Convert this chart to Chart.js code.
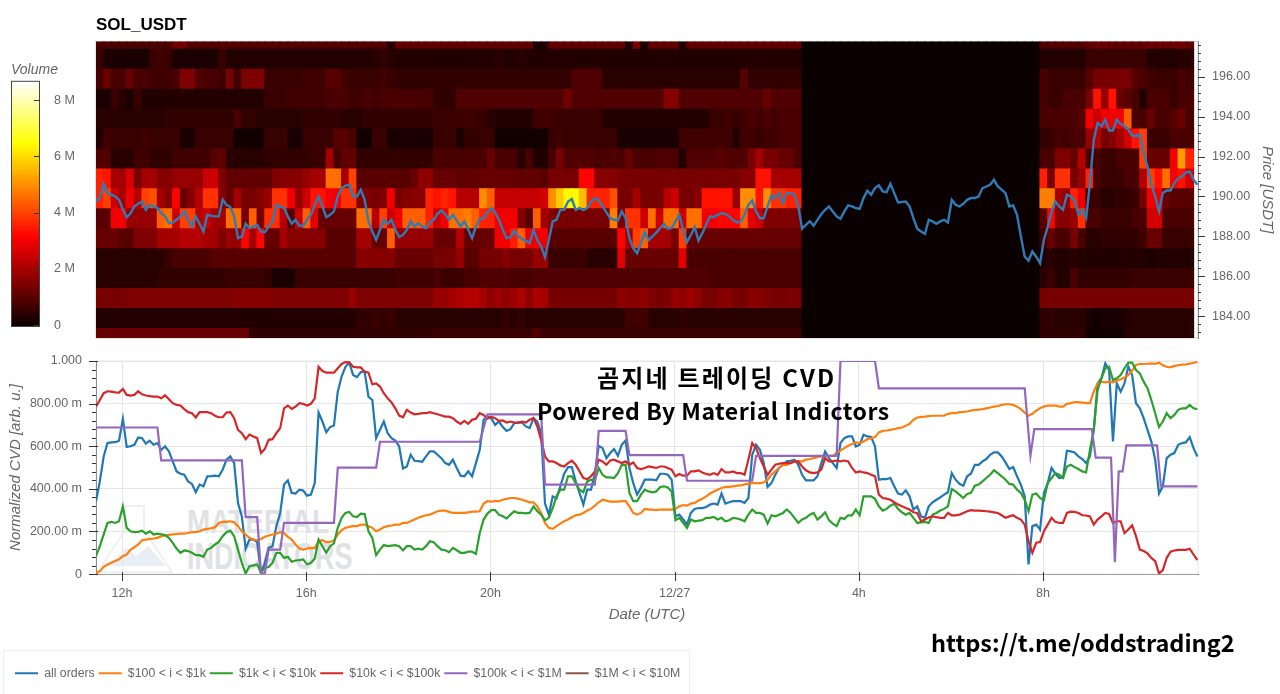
<!DOCTYPE html>
<html>
<head>
<meta charset="utf-8">
<script src="https://cdn.jsdelivr.net/npm/chart.js@4"></script>
<style>
  html, body { margin: 0; padding: 0; background: #fff; width: 1280px; height: 694px; overflow: hidden; }
  canvas { position: absolute; }
  .note { position: absolute; white-space: nowrap; font-family: "Noto Sans CJK KR", "Noto Sans"; font-weight: 700; color: #000; }
  #legendBox { position: absolute; left: 3px; top: 650px; width: 685px; height: 43px; border: 1px solid #eee; }
  .mark { position: absolute; white-space: nowrap; font-family: "Liberation Sans"; font-weight: 700; color: #dfe2e5; transform-origin: left top; }
</style>
</head>
<body>
<svg style="position:absolute;left:96px;top:500px" width="90" height="76">
  <path d="M29 6 H48 V30 L76 72 H2 L29 30 Z" fill="none" stroke="#eef0f2" stroke-width="2"/>
  <path d="M12 66 L30 48 L40 56 L52 46 L70 66 Z" fill="#e8eff4"/>
</svg>
<div class="mark" style="left:187px;top:502px;font-size:34px;transform:scaleX(.82)">MATERIAL</div>
<div class="mark" style="left:187px;top:536px;font-size:36px;transform:scaleX(.75)">INDICATORS</div>
<div id="legendBox"></div>
<canvas id="heatCanvas" width="1280" height="346" style="left:0;top:0"></canvas>
<canvas id="barCanvas" width="96" height="285" style="left:0;top:55px"></canvas>
<canvas id="cvdCanvas" width="1280" height="349" style="left:0;top:345px"></canvas>
<div class="note" style="left:597px;top:359px;font-size:24px;letter-spacing:2.2px">곰지네 트레이딩 CVD</div>
<div class="note" style="left:537px;top:393px;font-size:23px;letter-spacing:.5px">Powered By Material Indictors</div>
<div class="note" style="left:931px;top:625px;font-size:23.5px">https://t.me/oddstrading2</div>
<script>
// 시간축: 12/26 00시 기준 시간(h), 5분봉 인덱스를 시간으로 바꿔 쓴다
const startHour = 11.435;
const endHour = 35.365;
const timeTicks = [12, 16, 20, 24, 28, 32];
const timeLabels = ['12h', '16h', '20h', '12/27', '4h', '8h'];

const priceTicks = [184, 186, 188, 190, 192, 194, 196];
const cvdTicks = [0, 200, 400, 600, 800, 1000];
const cvdLabels = ['0', '200.00 m', '400.00 m', '600.00 m', '800.00 m', '1.000'];
const volumeTicks = [0, 2, 4, 6, 8];
const seriesLabels = ['all orders', '$100 < i < $1k', '$1k < i < $10k', '$10k < i < $100k', '$100k < i < $1M', '$1M < i < $10M'];

// 가격 (USDT), 5분 간격
const price = [
189.75,189.92,190.64,190.17,190.09,190.0,189.84,189.33,188.95,189.16,
189.5,189.63,189.75,189.33,189.58,189.5,189.42,189.16,189.0,188.66,
188.69,188.83,189.0,189.25,188.83,188.49,189.0,188.63,188.24,189.08,
189.03,189.0,189.0,189.84,189.58,189.47,189.0,187.91,187.99,188.63,
188.41,188.49,188.58,188.24,188.21,188.49,188.75,189.58,189.5,189.42,
189.0,188.63,188.83,188.53,188.53,188.83,189.08,189.58,190.0,189.5,
188.96,189.08,189.25,190.0,190.42,190.54,190.59,190.0,190.0,190.34,
189.84,188.75,188.24,187.82,188.33,188.83,188.63,188.83,188.33,187.96,
188.07,188.33,188.75,188.49,188.66,188.49,188.41,188.7,188.83,189.13,
189.3,189.11,188.83,189.08,188.8,188.49,188.75,188.33,187.91,188.49,
188.88,188.91,189.2,189.42,189.2,188.83,188.33,187.91,187.96,188.28,
188.0,187.87,187.77,187.66,188.33,187.82,187.49,186.95,187.82,188.75,
188.83,189.33,189.33,189.75,189.87,189.33,189.42,189.32,189.42,189.75,
189.92,189.8,189.5,189.2,188.91,188.83,188.8,189.25,188.91,187.91,
187.4,187.15,187.66,188.21,187.82,188.0,188.19,188.41,188.63,188.38,
188.41,188.75,189.08,188.33,187.71,188.07,188.46,187.79,188.16,188.58,
189.0,188.96,189.08,189.16,189.13,189.0,188.8,188.7,188.75,189.08,
189.58,189.8,189.25,188.91,188.91,189.5,190.05,189.92,190.2,189.67,
190.17,190.17,190.09,189.5,188.38,188.58,188.76,188.53,188.83,189.11,
189.33,189.5,189.25,189.0,188.88,189.25,189.55,189.5,189.42,189.38,
189.92,190.29,190.09,190.42,190.56,190.25,190.22,190.64,190.17,189.7,
189.72,189.75,189.5,188.91,188.38,188.24,188.12,188.83,188.75,188.63,
188.75,188.83,188.7,189.83,189.58,189.5,189.63,189.83,189.92,189.92,
190.0,190.42,190.5,190.59,190.84,190.5,190.34,190.17,189.5,189.55,
189.08,188.0,186.98,186.78,187.24,186.98,186.65,187.82,188.49,189.25,
189.75,189.5,189.33,190.09,190.0,189.83,189.08,189.33,188.91,190.67,
192.85,193.69,193.52,193.86,193.31,193.31,193.86,193.64,193.52,193.36,
193.05,193.05,193.1,192.18,191.51,190.59,190.0,189.25,190.17,190.3,
190.3,190.67,190.92,191.0,191.2,191.26,190.84,190.59];

// CVD (단위 m), 5분 간격
const allOrders = [
342,435,552,615,618,619,626,728,597,600,607,641,638,612,626,607,615,583,599,576,
529,482,471,466,435,423,384,420,412,459,460,462,459,490,537,552,521,334,271,120,
162,162,150,3,53,123,131,225,287,420,440,381,378,396,392,368,373,427,758,716,
666,690,697,856,927,973,992,934,924,948,950,833,817,638,677,716,661,638,627,599,
495,505,560,532,530,527,552,576,576,560,544,521,513,537,498,462,459,482,459,521,
583,724,739,732,700,716,690,672,680,708,711,711,693,685,732,716,661,331,279,365,
355,412,471,502,502,435,381,326,396,396,474,602,591,544,568,587,555,607,627,498,
427,373,405,443,443,443,440,471,471,466,443,271,279,256,232,287,306,310,310,315,
326,331,326,378,331,337,342,342,342,334,357,560,607,583,521,409,427,466,498,513,
529,532,537,513,466,440,440,440,459,521,576,544,521,498,615,638,646,646,599,607,
654,646,643,599,443,446,446,451,412,378,373,393,365,303,318,271,264,318,337,349,
360,373,384,474,443,424,415,459,471,513,513,529,540,560,571,571,552,524,493,502,
459,420,365,45,225,232,209,381,427,498,471,451,454,579,576,571,552,540,521,552,
677,895,919,989,958,622,895,856,895,973,934,802,778,732,677,622,537,378,412,544,
560,568,607,615,618,643,591,552];

const orders100 = [
3,14,34,45,53,61,69,84,92,115,126,139,159,162,165,167,170,178,181,184,
186,189,190,190,193,197,197,201,209,212,215,220,240,245,245,248,243,225,201,186,
170,162,159,165,175,181,186,190,197,193,175,162,139,120,115,120,123,122,154,159,
150,151,158,186,206,217,222,225,225,232,232,225,217,201,209,220,225,228,232,232,
240,240,248,256,264,271,276,279,287,295,298,298,292,287,287,287,287,290,293,293,
295,331,342,340,342,342,349,353,357,357,354,349,343,337,337,318,287,240,217,212,
225,237,248,256,267,276,279,287,298,306,321,337,349,345,340,340,340,342,342,318,
287,279,287,306,303,303,300,303,303,303,303,306,318,324,321,331,334,345,353,365,
378,388,396,404,409,409,412,415,416,421,424,427,427,427,430,443,466,482,498,513,
513,521,529,529,529,537,540,544,549,552,552,555,555,568,580,591,602,611,618,615,
622,633,638,643,665,672,674,677,680,685,688,696,705,724,735,738,739,741,743,743,
743,744,752,755,755,760,761,763,767,771,772,774,778,782,786,789,794,797,797,794,
786,774,758,743,752,767,778,786,791,791,791,786,786,799,802,807,807,805,802,802,
856,895,903,900,903,900,908,914,922,934,955,981,987,986,987,989,987,992,980,973,
970,977,980,983,984,987,992,995];

const orders1k = [
84,131,186,240,245,240,248,318,217,201,197,198,204,190,201,186,190,187,183,170,
147,120,100,111,108,100,89,89,81,115,123,139,151,178,197,204,178,115,53,3,
37,41,45,6,30,33,53,100,100,76,81,58,64,66,69,45,53,72,162,131,
100,131,144,217,264,287,292,271,268,284,282,201,170,89,115,136,131,134,136,131,
111,131,131,115,119,115,131,154,150,131,115,112,103,123,112,100,100,105,105,95,
193,256,284,300,300,279,271,261,279,295,287,287,285,287,318,295,279,253,264,310,
365,396,396,459,459,427,396,384,435,443,440,498,466,454,454,451,474,513,513,381,
342,342,373,396,388,384,388,409,412,407,388,253,264,240,217,256,248,251,253,264,
264,268,256,264,248,253,264,261,256,248,279,303,287,287,279,237,276,271,279,287,
303,287,264,240,256,264,279,287,256,271,290,253,237,225,264,259,276,276,303,276,
365,365,365,353,318,298,306,321,331,306,290,279,287,264,240,243,245,240,279,287,
298,306,318,399,388,373,357,376,381,415,420,435,451,466,487,474,459,443,423,420,
396,381,349,295,373,378,357,346,427,451,474,466,451,505,513,502,493,482,477,583,
677,864,919,966,973,911,919,934,966,992,992,958,942,903,872,817,755,690,716,755,
732,747,771,778,778,794,778,774];

const orders10k = [
786,817,849,858,856,853,852,869,841,838,841,858,844,838,835,833,833,825,839,821,
802,794,791,774,760,755,735,760,760,760,755,743,736,736,758,760,732,677,661,633,
655,646,638,568,587,630,633,661,685,778,791,775,786,802,799,791,799,825,973,953,
945,945,945,966,986,995,994,973,970,970,950,945,891,895,880,849,825,806,778,744,
736,771,758,750,752,755,755,760,755,750,744,739,739,732,716,705,719,705,724,729,
755,747,729,739,732,719,721,711,716,711,711,716,711,724,732,693,630,552,529,529,
521,510,505,521,532,513,482,451,446,459,482,537,529,513,533,537,529,521,529,513,
524,498,493,498,505,502,498,505,505,498,490,459,470,462,462,482,482,487,477,470,
466,474,466,493,477,477,482,474,474,466,537,615,591,544,505,466,490,513,518,521,
521,521,529,529,505,487,477,474,477,490,544,529,529,533,529,533,529,498,477,482,
477,474,466,459,373,357,354,349,337,326,318,310,303,290,287,248,256,267,271,267,
264,264,287,276,276,279,287,295,300,298,298,297,295,293,290,287,276,264,271,276,
264,256,232,154,100,147,150,201,232,264,245,240,240,287,293,292,287,276,275,271,
232,256,271,287,282,240,248,248,193,209,229,178,115,108,97,76,61,3,19,76,
105,111,114,114,114,119,92,66];

// 계단형이라 꺾이는 지점만 기록
const orders100kAt = [0,16,17,38,39,42,43,44,45,48,49,62,63,73,74,100,102,116,117,130,131,138,139,153,154,171,172,193,194,203,204,242,243.5,244.5,259.5,260.5,264.5,265.5,266.5,267.5,268.5,276.5,277.5,287];
const orders100k = [688,688,534,534,267,267,3,3,115,115,240,240,500,500,621,621,750,750,420,420,672,672,558,558,438,438,555,555,1000,1000,872,872,555,680,680,547,547,56,482,482,604,604,412,412];
const orders1M = [];

// 히트맵 거래량 (단위 0.1M), 10분 간격. L = 공백 앞 92칸, R = 공백 뒤 20칸
const row197L = [8,8,8,8,8,8,8,8,8,8,13,13,9,9,9,9,9,9,9,9,9,9,9,9,9,9,9,9,9,9,9,9,9,9,9,9,9,9,3,11,11,11,11,11,11,11,11,11,11,11,11,11,11,11,11,11,11,2,2,11,11,11,11,11,11,11,11,11,11,2,14,2,11,11,11,11,2,11,11,11,11,11,11,11,11,11,11,11,11,11,11,11];
const row197R = [9,9,9,9,9,9,11,12,12,11,11,11,11,11,13,12,12,12,13,11];
const row196L = [6,2,2,2,2,2,2,6,7,6,2,2,2,2,2,2,6,3,3,3,3,3,3,3,3,3,3,3,3,3,3,3,3,3,3,3,4,5,4,3,3,3,3,3,3,3,3,3,3,3,3,3,4,3,3,4,3,3,3,3,3,3,3,3,3,3,3,3,3,3,3,3,3,3,3,3,3,3,3,3,3,3,3,3,3,3,3,3,3,3,3,3];
const row196R = [3,3,3,3,3,3,6,6,6,6,6,6,6,6,3,3,3,3,4,4];
const row195L = [8,12,8,8,12,8,8,7,7,7,8,15,15,9,8,8,7,14,7,15,15,15,6,6,6,6,6,7,7,7,10,10,7,6,6,6,6,7,6,5,5,5,5,5,5,5,5,5,5,5,5,5,5,5,5,5,5,5,5,5,5,5,9,9,9,9,4,4,4,4,4,4,4,4,4,4,4,4,4,4,4,4,4,4,10,5,5,5,5,5,5,5];
const row195R = [8,6,6,6,6,6,10,14,14,14,14,14,10,8,7,6,6,6,8,7];
const row194L = [2,2,6,4,2,6,3,3,3,3,3,3,3,3,3,3,3,3,3,3,3,3,6,6,6,7,7,7,7,7,8,8,8,7,7,8,7,8,8,8,8,8,8,8,5,5,5,9,9,9,9,9,9,9,9,9,9,9,9,9,9,13,9,9,9,9,9,9,9,9,9,9,9,9,16,16,9,9,9,9,9,9,9,9,9,9,9,12,9,9,9,9];
const row194R = [8,6,6,8,8,8,14,34,18,34,12,10,8,3,8,8,8,6,8,8];
const row193L = [4,4,4,4,4,4,4,4,4,5,5,5,5,5,5,5,5,5,8,5,5,4,4,4,4,4,4,5,5,5,5,5,4,4,4,5,5,5,5,5,5,5,5,5,6,6,6,6,7,6,6,4,3,3,3,3,3,7,7,7,6,6,6,6,6,6,3,3,3,3,3,3,3,3,3,3,3,3,3,3,6,6,7,6,7,8,7,8,7,8,8,8];
const row193R = [8,8,8,8,8,10,30,24,30,30,30,44,8,8,12,8,8,10,12,8];
const row192L = [3,7,6,6,6,6,7,6,6,6,6,2,2,6,6,6,6,6,1,1,1,1,6,6,6,2,2,6,6,6,6,10,10,8,1,1,6,6,2,2,2,2,2,2,6,6,6,2,5,5,6,6,1,1,1,1,1,1,1,6,7,6,6,6,6,6,6,6,2,2,2,2,2,2,2,2,7,7,7,7,7,7,7,3,7,7,6,7,7,8,8,8];
const row192R = [5,6,8,7,8,8,18,22,14,16,20,26,34,40,6,6,6,8,8,8];
const row191L = [9,9,4,4,4,7,7,5,5,5,7,7,7,7,7,10,11,4,4,4,4,4,5,5,5,5,5,5,6,6,20,8,11,11,5,5,5,5,5,5,5,5,5,5,8,8,8,8,8,8,8,12,8,8,8,4,8,3,3,8,14,9,9,9,9,8,8,9,8,12,8,8,8,9,9,8,3,9,9,9,9,10,9,9,9,14,20,14,14,12,12,8];
const row191R = [8,8,15,15,12,22,8,8,6,6,8,8,8,40,12,12,12,30,52,36];
const row190L = [36,34,20,20,27,14,20,20,16,16,18,18,18,18,25,25,15,11,11,11,11,11,11,15,16,16,16,18,20,20,46,46,20,40,10,10,10,10,10,10,10,12,17,17,12,12,12,11,11,11,12,12,12,12,11,11,11,11,10,14,14,14,14,32,32,16,16,16,14,14,14,14,14,14,14,14,14,14,14,14,14,14,14,14,16,16,34,34,20,20,20,20];
const row190R = [36,14,38,38,14,18,36,8,6,6,6,8,8,22,40,34,46,30,34,26];
const row189L = [36,40,25,20,30,22,40,42,20,16,32,12,16,22,38,38,16,12,20,14,14,16,18,38,38,30,18,25,34,34,30,30,38,38,15,15,14,15,30,14,16,16,16,36,34,36,34,22,22,22,50,44,24,24,24,24,24,24,26,50,58,64,64,56,36,36,36,42,14,14,20,14,14,14,22,25,14,14,16,34,34,34,34,18,50,50,34,50,38,38,36,36];
const row189R = [48,48,20,18,36,30,6,6,4,4,5,5,6,14,30,30,12,10,10,10];
const row188L = [10,10,30,30,18,18,18,18,44,46,25,40,40,22,25,20,20,46,46,14,44,14,38,38,22,10,25,44,28,12,12,12,12,12,46,46,22,40,25,30,44,44,44,36,25,30,46,46,48,44,36,36,30,30,30,15,10,44,20,16,14,14,14,14,14,14,14,48,14,38,38,25,46,25,46,46,25,46,46,30,30,32,32,32,44,28,25,15,15,15,15,15];
const row188R = [10,32,16,16,18,38,8,8,6,6,6,6,8,8,26,26,8,8,8,8];
const row187L = [12,12,12,10,10,15,15,15,20,20,20,22,22,22,20,20,15,18,18,32,20,32,12,12,20,16,16,16,16,16,10,10,10,10,20,20,12,12,44,18,18,18,18,18,12,12,12,22,12,12,12,12,30,30,35,44,30,30,30,10,10,10,10,10,10,10,10,10,32,20,40,44,20,20,20,14,40,12,12,12,12,12,12,12,12,12,12,12,12,12,12,12];
const row187R = [7,12,8,8,14,8,4,4,5,5,5,5,5,7,12,12,6,6,6,6];
const row186L = [4,4,4,4,4,4,4,4,4,6,8,8,8,8,8,10,10,10,10,10,10,10,10,10,10,10,10,10,10,10,10,10,10,10,16,16,16,16,16,12,12,12,12,12,14,14,14,18,10,10,14,14,14,16,14,14,14,18,18,6,6,6,6,6,4,4,4,4,28,12,12,12,12,12,12,12,28,8,8,8,8,8,8,8,8,8,8,8,8,8,8,8];
const row186R = [3,4,3,3,4,3,3,3,3,3,3,3,3,3,2,3,3,3,3,3];
const row185L = [4,4,4,4,4,4,4,4,5,5,5,5,5,5,5,5,5,6,6,6,6,6,5,2,2,2,6,6,6,6,6,6,6,6,6,6,6,6,6,7,7,7,7,7,8,6,6,6,8,8,9,9,9,9,8,8,8,9,9,9,9,9,9,9,9,9,9,9,9,9,9,9,9,9,9,9,9,9,9,9,8,8,8,8,8,8,8,8,8,8,8,8];
const row185R = [4,6,3,3,8,5,5,5,5,5,5,5,6,6,6,6,6,6,6,6];
const row184L = [14,14,14,14,15,15,15,15,15,15,15,15,15,15,15,15,15,15,16,16,16,16,16,15,15,15,15,15,15,15,15,15,15,18,15,15,15,15,15,15,15,15,15,15,18,18,20,21,22,22,20,17,19,17,19,21,17,21,20,14,14,14,14,14,14,14,14,14,17,16,16,17,15,14,15,18,17,19,17,14,14,16,16,14,14,16,16,15,14,14,15,14];
const row184R = [14,14,14,14,14,14,14,14,14,14,14,14,14,14,14,14,14,14,14,14];
const row183L = [3,3,3,3,3,3,3,3,3,3,3,3,3,3,3,3,3,3,3,3,3,3,3,3,3,3,3,3,3,3,3,3,3,3,5,5,6,5,6,4,4,4,4,4,4,4,4,4,4,4,4,4,4,5,4,5,4,4,4,4,4,4,4,4,4,4,4,4,4,7,7,7,4,4,4,4,5,4,4,4,4,4,4,4,4,4,4,4,4,4,4,4];
const row183R = [5,5,4,4,4,4,2,1,2,2,2,3,4,4,4,4,4,4,4,4];
const row182L = [12,12,12,12,12,12,12,12,12,12,12,12,12,12,12,12,12,12,12,12,5,5,5,5,5,5,5,5,5,5,5,5,5,5,5,5,5,5,5,5,5,5,5,5,6,6,6,6,6,6,6,6,6,6,6,6,6,9,6,6,6,6,6,6,6,6,6,6,6,6,6,6,6,6,6,6,6,6,6,6,6,6,6,6,6,6,6,6,6,6,6,6];
const row182R = [5,5,5,5,5,5,1,1,1,1,1,4,4,4,4,4,4,4,4,4];

const heatRowsLeft = [row182L,row183L,row184L,row185L,row186L,row187L,row188L,row189L,row190L,row191L,row192L,row193L,row194L,row195L,row196L,row197L];
const heatRowsRight = [row182R,row183R,row184R,row185R,row186R,row187R,row188R,row189R,row190R,row191R,row192R,row193R,row194R,row195R,row196R,row197R];
const gapCols = 31;   // 거래량 데이터 없는 구간

const volumeMax = 8.67;

// matplotlib hot 컬러맵
function hotColor(v) {
    const t = Math.max(0, Math.min(1, v / volumeMax));
    const r = 0.0416 + (t / 0.365) * 0.9584;
    const g = (t - 0.365) / 0.381;
    const b = (t - 0.746) / 0.254;
    const c = x => Math.round(Math.max(0, Math.min(1, x)) * 255);
    return `rgb(${c(r)},${c(g)},${c(b)})`;
}

// 눈금 표시 (Chart.js는 minor 틱 길이를 따로 못 줘서 직접 그림)
function tickMarks(conf) {
    return {
        id: 'tickMarks',
        beforeDatasetsDraw(chart) {
            if (!conf.frame) return;
            const a = chart.chartArea, ctx = chart.ctx;
            ctx.save();
            ctx.strokeStyle = conf.frame;
            ctx.lineWidth = 1;
            ctx.strokeRect(a.left, a.top, a.right - a.left, a.bottom - a.top);
            ctx.restore();
        },
        afterDraw(chart) {
            const ctx = chart.ctx;
            ctx.save();
            ctx.strokeStyle = conf.color || '#333';
            ctx.lineWidth = 1;
            conf.marks.forEach(m => {
                const scale = chart.scales[m.axis];
                m.values.forEach(v => {
                    const p = Math.round(scale.getPixelForValue(v)) + 0.5;
                    ctx.beginPath();
                    if (m.axis === 'x') {
                        ctx.moveTo(p, scale.top - m.inner);
                        ctx.lineTo(p, scale.top + m.outer);
                    } else {
                        const edge = scale.position === 'right' ? scale.left : scale.right;
                        const dir = scale.position === 'right' ? 1 : -1;
                        ctx.moveTo(edge - dir * m.inner, p);
                        ctx.lineTo(edge + dir * m.outer, p);
                    }
                    ctx.stroke();
                });
            });
            if (conf.box) {
                const a = chart.chartArea;
                ctx.strokeStyle = conf.box;
                ctx.strokeRect(a.left + 0.5, a.top + 0.5, a.right - a.left - 1, a.bottom - a.top - 1);
            }
            ctx.restore();
        }
    };
}

const textColor = '#666';
const noTick = 'rgba(0,0,0,0)';
const tickFont = { family: 'Liberation Sans', size: 12.5 };
const titleFont = { family: 'Liberation Sans', size: 15, style: 'italic', weight: 'normal' };
const hourOf = i => startHour + i / 12;

const priceMinor = Array.from({ length: 37 }, (_, i) => 183.2 + i * 0.4);
const cvdMinor = Array.from({ length: 26 }, (_, i) => i * 40);

// 히트맵 + 가격선
const heatDatasets = heatRowsLeft.map((left, r) => {
    const low = 182.38 + r;
    const cell = (c, v) => ({ x: startHour + (c + 0.5) / 6, y: [low - 0.01, low + 1.01], v: v });
    const cells = left.map((v, c) => cell(c, v));
    for (let g = 0; g < gapCols; g++) cells.push(cell(left.length + g, 0));
    heatRowsRight[r].forEach((v, c) => cells.push(cell(left.length + gapCols + c, v)));
    return {
        type: 'bar',
        data: cells,
        backgroundColor: cells.map(c => hotColor(c.v / 10)),
        barThickness: 8.2,
        borderWidth: 0,
        grouped: false,
        order: 2
    };
});

new Chart(document.getElementById('heatCanvas'), {
    type: 'bar',
    data: {
        datasets: [{
            type: 'line',
            data: price.map((p, i) => ({ x: hourOf(i), y: p })),
            borderColor: '#2f7bb5',
            backgroundColor: '#2f7bb5',
            borderWidth: 2.4,
            pointRadius: 0,
            tension: 0,
            order: 1
        }, ...heatDatasets]
    },
    options: {
        responsive: false,
        animation: false,
        layout: { padding: { left: 96, bottom: 8, top: 0, right: 0 } },
        plugins: {
            legend: { display: false },
            tooltip: { enabled: false },
            title: {
                display: true,
                text: 'SOL_USDT',
                align: 'start',
                fullSize: false,
                color: '#000',
                font: { family: 'Liberation Sans', size: 17, weight: 'bold' },
                padding: { top: 15, bottom: 6 }
            }
        },
        scales: {
            x: { type: 'linear', display: false, offset: false, min: startHour, max: endHour, grid: { display: false } },
            y: {
                type: 'linear',
                position: 'right',
                min: 182.9,
                max: 197.78,
                afterBuildTicks: s => { s.ticks = priceTicks.map(v => ({ value: v })); },
                afterFit: s => { s.width = 82; },
                grid: { display: false, tickColor: noTick, tickLength: 14 },
                border: { display: true, color: '#444', width: 1 },
                ticks: { color: textColor, font: tickFont, padding: 0, callback: v => v.toFixed(2) },
                title: { display: true, text: 'Price [USDT]', color: textColor, font: titleFont, padding: { top: 4 } }
            }
        }
    },
    plugins: [tickMarks({
        frame: '#ccc',
        marks: [
            { axis: 'y', values: priceTicks, inner: 0, outer: 7 },
            { axis: 'y', values: priceMinor, inner: 0, outer: 3 }
        ]
    })]
});

// 컬러바
const volumeLevels = Array.from({ length: 88 }, (_, i) => i / 10);
new Chart(document.getElementById('barCanvas'), {
    type: 'bar',
    data: {
        datasets: [{
            data: volumeLevels.map(v => ({ x: 1, y: v })),
            backgroundColor: volumeLevels.map(v => hotColor(v)),
            barThickness: 3.2,
            borderWidth: 0
        }]
    },
    options: {
        indexAxis: 'y',
        responsive: false,
        animation: false,
        layout: { padding: { left: 11, bottom: 13, top: 0, right: 0 } },
        plugins: {
            legend: { display: false },
            tooltip: { enabled: false },
            title: {
                display: true,
                text: 'Volume',
                align: 'start',
                color: textColor,
                font: { family: 'Liberation Sans', size: 14, style: 'italic', weight: 'normal' },
                padding: { top: 7, bottom: 2 }
            }
        },
        scales: {
            x: { type: 'linear', display: false, offset: false, min: 0, max: 1, grid: { display: false } },
            y: {
                type: 'linear',
                position: 'right',
                offset: false,
                min: -0.06,
                max: 8.69,
                afterBuildTicks: s => { s.ticks = volumeTicks.map(v => ({ value: v })); },
                afterFit: s => { s.width = 56; },
                grid: { display: false, tickColor: noTick, tickLength: 14 },
                border: { display: false },
                ticks: { color: textColor, font: tickFont, padding: 0, callback: v => v === 0 ? '0' : v + ' M' }
            }
        }
    },
    plugins: [tickMarks({
        box: '#444',
        marks: [{ axis: 'y', values: volumeTicks, inner: 6, outer: 0 }]
    })]
});

// 정규화 CVD
const cvdColors = ['#1f77b4', '#ff7f0e', '#2ca02c', '#d62728', '#9467bd', '#8c564b'];
const cvdValues = [allOrders, orders100, orders1k, orders10k];
const cvdDatasets = cvdValues.map((vals, s) => ({
    label: seriesLabels[s],
    data: vals.map((v, i) => ({ x: hourOf(i), y: v })),
    borderColor: cvdColors[s],
    backgroundColor: cvdColors[s],
    borderWidth: 2.2,
    pointRadius: 0,
    tension: 0,
    order: 6 - s
}));
cvdDatasets.push({
    label: seriesLabels[4],
    data: orders100k.map((v, i) => ({ x: hourOf(orders100kAt[i]), y: v })),
    borderColor: cvdColors[4],
    backgroundColor: cvdColors[4],
    borderWidth: 2.2,
    pointRadius: 0,
    tension: 0,
    order: 1
});
cvdDatasets.push({
    label: seriesLabels[5],
    data: orders1M,
    borderColor: cvdColors[5],
    backgroundColor: cvdColors[5],
    borderWidth: 2.2,
    pointRadius: 0,
    order: 0
});

new Chart(document.getElementById('cvdCanvas'), {
    type: 'line',
    data: { datasets: cvdDatasets },
    options: {
        responsive: false,
        animation: false,
        layout: { padding: { left: 11, right: 82, top: 16, bottom: 4.6 } },
        plugins: {
            tooltip: { enabled: false },
            legend: {
                display: true,
                position: 'bottom',
                align: 'start',
                labels: {
                    boxWidth: 23,
                    boxHeight: 2,
                    padding: 4,
                    color: textColor,
                    font: { family: 'Liberation Sans', size: 12.3 },
                    sort: (a, b) => a.datasetIndex - b.datasetIndex,
                    generateLabels: chart => Chart.defaults.plugins.legend.labels.generateLabels(chart).map(l => ({ ...l, lineWidth: 0 }))
                }
            }
        },
        scales: {
            x: {
                type: 'linear',
                min: startHour,
                max: endHour,
                afterBuildTicks: s => { s.ticks = timeTicks.map(v => ({ value: v })); },
                afterFit: s => { s.height = 89; },
                grid: { color: '#e6e6e6', drawTicks: false, tickLength: 0 },
                border: { display: true, color: '#333', width: 1 },
                ticks: {
                    color: textColor,
                    font: tickFont,
                    padding: 12,
                    maxRotation: 0,
                    autoSkip: false,
                    callback: v => timeLabels[timeTicks.indexOf(v)]
                },
                title: { display: true, text: 'Date (UTC)', color: textColor, font: titleFont, padding: { bottom: 39, top: 0 } }
            },
            y: {
                type: 'linear',
                min: 0,
                max: 1000,
                afterBuildTicks: s => { s.ticks = cvdTicks.map(v => ({ value: v })); },
                afterFit: s => { s.width = 85; },
                grid: { color: '#e6e6e6', tickColor: noTick, tickLength: 14 },
                border: { display: true, color: '#333', width: 1 },
                ticks: { color: textColor, font: tickFont, padding: 0, callback: v => cvdLabels[cvdTicks.indexOf(v)] },
                title: { display: true, text: 'Normalized CVD [arb. u.]', color: textColor, font: titleFont, padding: { top: -4 } }
            }
        }
    },
    plugins: [tickMarks({
        frame: '#e6e6e6',
        marks: [
            { axis: 'y', values: cvdTicks, inner: 2, outer: 7 },
            { axis: 'y', values: cvdMinor, inner: 0, outer: 4 },
            { axis: 'x', values: timeTicks, inner: 2, outer: 7 }
        ]
    })]
});
</script>
</body>
</html>
